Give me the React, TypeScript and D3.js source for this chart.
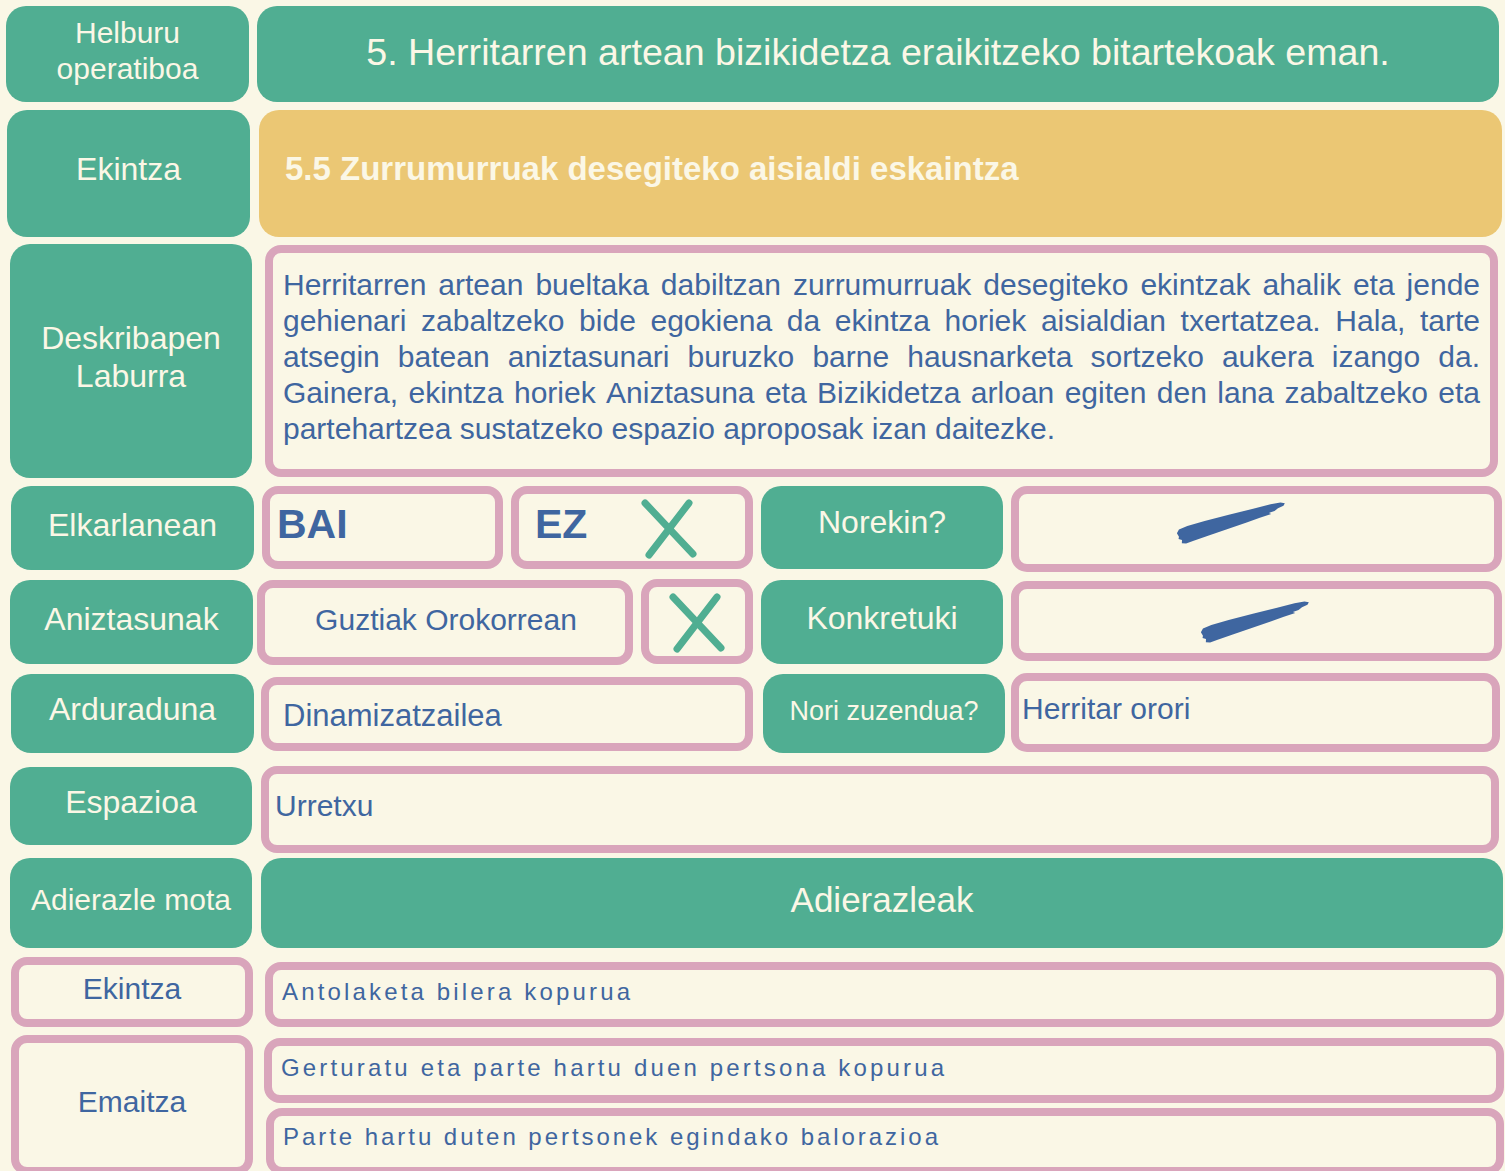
import React from 'react';
import * as d3 from 'd3';

// ---------- content ----------
const rowLabels: string[][] = [
  ['Helburu', 'operatiboa'],
  ['Ekintza'],
  ['Deskribapen', 'Laburra'],
  ['Elkarlanean'],
  ['Aniztasunak'],
  ['Arduraduna'],
  ['Espazioa'],
  ['Adierazle mota'],
];
const objectiveTitle = '5. Herritarren artean bizikidetza eraikitzeko bitartekoak eman.';
const actionTitle = '5.5 Zurrumurruak desegiteko aisialdi eskaintza';
const descriptionLines: string[] = [
  'Herritarren artean bueltaka dabiltzan zurrumurruak desegiteko ekintzak ahalik eta jende',
  'gehienari zabaltzeko bide egokiena da ekintza horiek aisialdian txertatzea. Hala, tarte',
  'atsegin batean aniztasunari buruzko barne hausnarketa sortzeko aukera izango da.',
  'Gainera, ekintza horiek Aniztasuna eta Bizikidetza arloan egiten den lana zabaltzeko eta',
  'partehartzea sustatzeko espazio aproposak izan daitezke.',
];
const collabOptions: string[] = ['BAI', 'EZ'];
const diversityOptions: string[] = ['Guztiak Orokorrean'];
const sideLabels: string[] = ['Norekin?', 'Konkretuki', 'Nori zuzendua?'];
const responsible = 'Dinamizatzailea';
const audience = 'Herritar orori';
const place = 'Urretxu';
const indicatorHeader = 'Adierazleak';
const indicatorTypes: string[] = ['Ekintza', 'Emaitza'];
const indicatorTexts: string[] = [
  'Antolaketa bilera kopurua',
  'Gerturatu eta parte hartu duen pertsona kopurua',
  'Parte hartu duten pertsonek egindako balorazioa',
];

// ---------- styles ----------
const FONT = "'Liberation Sans', Arial, Helvetica, sans-serif";
const BG = '#FAF7E6';
const GREEN = '#50AE92';
const YELLOW = '#EBC774';
const PINK = '#D9A5BB';
const BLUE = '#3F66A0';
const LIGHT = '#FBF7E6';

type Box = [number, number, number, number];

// left column green boxes (outer bounds)
const leftBoxes: Box[] = [
  [6, 6, 249, 102], [7, 110, 250, 237], [10, 244, 252, 478], [11, 486, 254, 570],
  [10, 580, 253, 664], [11, 674, 254, 753], [10, 767, 252, 845], [10, 858, 252, 948],
];
const leftBaselines: number[][] = [[43, 79], [180], [349, 387], [536], [630], [720], [813], [910]];
const leftSizes = [30, 32, 32, 32, 32, 32, 32, 30];

let _ctx: CanvasRenderingContext2D | null = null;
function measure(text: string, size: number, weight = 'normal'): number {
  if (!_ctx) _ctx = document.createElement('canvas').getContext('2d');
  if (!_ctx) return text.length * size * 0.5;
  _ctx.font = `${weight} ${size}px ${FONT}`;
  return _ctx.measureText(text).width;
}

function GreenBox({ b, fill = GREEN }: { b: Box; fill?: string }) {
  return <rect x={b[0]} y={b[1]} width={b[2] - b[0]} height={b[3] - b[1]} rx={20} ry={20} fill={fill} />;
}
function PinkBox({ b }: { b: Box }) {
  const sw = 8;
  return (
    <rect x={b[0] + sw / 2} y={b[1] + sw / 2} width={b[2] - b[0] - sw} height={b[3] - b[1] - sw}
      rx={12} ry={12} fill={BG} stroke={PINK} strokeWidth={sw} />
  );
}

function Cross({ x0, y0, x1, y1 }: { x0: number; y0: number; x1: number; y1: number }) {
  const p = d3.path();
  p.moveTo(x0, y0); p.lineTo(x1, y1);
  p.moveTo(x1 - 4, y0); p.lineTo(x0 + 4, y1 + 1);
  return <path d={p.toString()} stroke={GREEN} strokeWidth={7} strokeLinecap="round" fill="none" />;
}

// brush stroke shape in a local frame (length along x, thickness along y)
const brushFrame: [number, number][] = [
  [0, -4], [3, -7], [12, -8], [30, -8], [55, -7.5], [80, -6.5], [98, -6], [108, -5], [112, -3],
  [110, -1], [104, 0], [100, 1.5], [94, 2], [96, 3.5], [84, 4], [70, 5], [50, 6], [30, 7],
  [14, 8], [6, 8.5], [2, 7], [3, 4], [0, 2], [1, 0],
];
function Brush({ x, y, angle }: { x: number; y: number; angle: number }) {
  const line = d3.line<[number, number]>().curve(d3.curveLinearClosed);
  return (
    <path d={line(brushFrame) || ''} fill={BLUE} transform={`translate(${x},${y}) rotate(${angle})`} />
  );
}

function Justified({ lines, x0, x1, y0, lh, size }: { lines: string[]; x0: number; x1: number; y0: number; lh: number; size: number }) {
  const out: React.ReactNode[] = [];
  lines.forEach((ln, i) => {
    const words = ln.split(' ');
    const y = y0 + i * lh;
    const last = i === lines.length - 1;
    const widths = words.map((w) => measure(w, size));
    const total = d3.sum(widths);
    const gap = last ? measure(' ', size) : (x1 - x0 - total) / (words.length - 1);
    let x = x0;
    words.forEach((w, j) => {
      out.push(
        <text key={`${i}-${j}`} x={x} y={y} fontSize={size} fill={BLUE} fontFamily={FONT}>{w}</text>
      );
      x += widths[j] + gap;
    });
  });
  return <g>{out}</g>;
}

export default function App() {
  const W = 1505, H = 1171;
  return (
    <svg width={W} height={H} style={{ position: 'absolute', left: 0, top: 0 }} xmlns="http://www.w3.org/2000/svg">
      <rect x={0} y={0} width={W} height={H} fill={BG} />

      {/* left column */}
      {leftBoxes.map((b, i) => (
        <g key={`l${i}`}>
          <GreenBox b={b} />
          {rowLabels[i].map((t, j) => (
            <text key={j} x={(b[0] + b[2]) / 2} y={leftBaselines[i][j]} textAnchor="middle"
              fontSize={leftSizes[i]} fill={LIGHT} fontFamily={FONT}>{t}</text>
          ))}
        </g>
      ))}

      {/* objective */}
      <GreenBox b={[257, 6, 1499, 102]} />
      <text x={878} y={65} textAnchor="middle" fontSize={37.6} fill={LIGHT} fontFamily={FONT}>{objectiveTitle}</text>

      {/* action */}
      <GreenBox b={[259, 110, 1502, 237]} fill={YELLOW} />
      <text x={285} y={180} fontSize={33} fontWeight="bold" fill={LIGHT} fontFamily={FONT}>{actionTitle}</text>

      {/* description */}
      <PinkBox b={[265, 245, 1498, 477]} />
      <Justified lines={descriptionLines} x0={283} x1={1480} y0={295} lh={36} size={30} />

      {/* collaboration */}
      <PinkBox b={[262, 486, 503, 569]} />
      <text x={277} y={538} fontSize={41} fontWeight="bold" fill={BLUE} fontFamily={FONT}>{collabOptions[0]}</text>
      <PinkBox b={[511, 486, 753, 569]} />
      <text x={535} y={538} fontSize={41} fontWeight="bold" fill={BLUE} fontFamily={FONT}>{collabOptions[1]}</text>
      <Cross x0={645} y0={503} x1={693} y1={554} />
      <GreenBox b={[761, 486, 1003, 569]} />
      <text x={882} y={533} textAnchor="middle" fontSize={32} fill={LIGHT} fontFamily={FONT}>{sideLabels[0]}</text>
      <PinkBox b={[1011, 486, 1502, 572]} />
      <Brush x={1178} y={537} angle={-16} />

      {/* diversity */}
      <PinkBox b={[257, 580, 633, 665]} />
      <text x={446} y={630} textAnchor="middle" fontSize={30} fill={BLUE} fontFamily={FONT}>{diversityOptions[0]}</text>
      <PinkBox b={[641, 579, 753, 664]} />
      <Cross x0={673} y0={597} x1={721} y1={648} />
      <GreenBox b={[761, 580, 1003, 664]} />
      <text x={882} y={629} textAnchor="middle" fontSize={32} fill={LIGHT} fontFamily={FONT}>{sideLabels[1]}</text>
      <PinkBox b={[1011, 581, 1502, 661]} />
      <Brush x={1202} y={636} angle={-16} />

      {/* responsible */}
      <PinkBox b={[261, 677, 753, 751]} />
      <text x={283} y={726} fontSize={31} fill={BLUE} fontFamily={FONT}>{responsible}</text>
      <GreenBox b={[763, 674, 1005, 753]} />
      <text x={884} y={720} textAnchor="middle" fontSize={27} fill={LIGHT} fontFamily={FONT}>{sideLabels[2]}</text>
      <PinkBox b={[1011, 673, 1500, 752]} />
      <text x={1022} y={719} fontSize={30} fill={BLUE} fontFamily={FONT}>{audience}</text>

      {/* place */}
      <PinkBox b={[261, 766, 1499, 853]} />
      <text x={275} y={816} fontSize={30} fill={BLUE} fontFamily={FONT}>{place}</text>

      {/* indicators header */}
      <GreenBox b={[261, 858, 1503, 948]} />
      <text x={882} y={912} textAnchor="middle" fontSize={35} fill={LIGHT} fontFamily={FONT}>{indicatorHeader}</text>

      {/* indicator types */}
      <PinkBox b={[11, 957, 253, 1027]} />
      <text x={132} y={999} textAnchor="middle" fontSize={30} fill={BLUE} fontFamily={FONT}>{indicatorTypes[0]}</text>
      <PinkBox b={[11, 1035, 253, 1175]} />
      <text x={132} y={1112} textAnchor="middle" fontSize={30} fill={BLUE} fontFamily={FONT}>{indicatorTypes[1]}</text>

      {/* indicators */}
      <PinkBox b={[265, 962, 1504, 1027]} />
      <text x={282} y={1000} fontSize={24} fill={BLUE} fontFamily={FONT} textLength={348} lengthAdjust="spacing">{indicatorTexts[0]}</text>
      <PinkBox b={[264, 1038, 1504, 1103]} />
      <text x={281} y={1076} fontSize={24} fill={BLUE} fontFamily={FONT} textLength={663} lengthAdjust="spacing">{indicatorTexts[1]}</text>
      <PinkBox b={[266, 1108, 1504, 1175]} />
      <text x={283} y={1145} fontSize={24} fill={BLUE} fontFamily={FONT} textLength={655} lengthAdjust="spacing">{indicatorTexts[2]}</text>
    </svg>
  );
}
